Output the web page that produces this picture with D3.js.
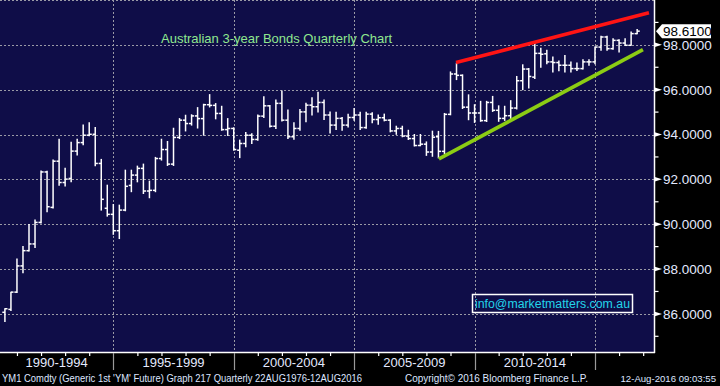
<!DOCTYPE html>
<html><head><meta charset="utf-8">
<script src="https://cdn.jsdelivr.net/npm/d3@7"></script>
<style>html,body{margin:0;padding:0;background:#000;} svg{display:block;}</style>
</head><body><svg id="c" width="720" height="386"></svg>
<script>
// ---------- data ----------
const title = "Australian 3-year Bonds Quarterly Chart";
const startYear = 1990, startQuarter = 2; // first bar: 1990 Q2
const open = [86.07,86.20,86.97,88.14,88.82,89.12,90.08,92.33,90.75,92.81,
  91.86,92.04,93.26,93.64,93.97,94.01,92.71,90.71,90.44,89.71,
  90.63,91.73,92.19,92.49,91.48,91.51,92.93,93.33,92.68,93.87,
  94.64,94.49,94.83,94.71,95.33,95.30,94.94,94.22,94.27,93.30,
  93.60,93.97,93.78,94.82,95.28,94.37,95.39,94.64,93.90,94.27,
  95.01,95.31,95.24,95.43,94.87,94.42,94.72,94.42,94.76,94.87,
  94.31,94.91,94.67,94.75,94.64,94.16,94.27,93.93,93.82,93.51,
  93.57,93.22,93.90,93.25,94.90,96.70,96.64,95.22,94.96,94.96,
  94.62,95.43,95.08,94.72,94.84,95.18,96.40,96.92,96.56,97.62,
  97.60,97.24,97.21,97.09,97.09,96.94,96.94,97.24,97.24,97.90,
  98.35,97.83,98.20,98.08,97.98,98.50];
const high = [86.23,86.97,88.45,89.00,89.99,90.19,92.37,92.36,92.86,93.79,
  92.50,93.66,93.79,94.43,94.53,94.31,92.89,91.74,90.88,90.85,
  92.41,92.41,92.59,92.68,91.92,92.98,93.79,93.69,94.28,94.71,
  94.86,94.88,95.20,95.35,95.78,95.38,95.26,94.71,94.30,93.75,
  94.09,94.04,94.87,95.69,95.30,95.54,95.94,95.09,94.52,95.12,
  95.39,95.64,95.88,95.54,95.01,94.99,94.76,94.90,95.16,94.99,
  94.99,94.97,94.87,94.91,94.66,94.37,94.37,94.19,94.00,94.00,
  93.67,94.15,94.14,94.94,96.79,97.18,96.66,95.77,95.33,95.48,
  95.48,95.70,95.28,95.26,95.51,96.59,97.11,96.95,98.05,97.85,
  97.76,97.46,97.28,97.53,97.24,97.19,97.34,97.34,97.90,98.38,
  98.38,98.27,98.23,98.27,98.57,98.68];
const low = [85.66,86.15,86.95,87.84,88.80,88.96,90.05,90.56,90.72,91.74,
  91.70,91.89,93.09,93.54,93.94,92.61,90.63,90.36,89.55,89.36,
  90.60,91.45,91.89,91.37,91.18,91.45,92.86,92.62,92.62,93.82,
  94.16,94.42,94.29,93.97,95.23,94.70,94.19,93.96,93.30,92.97,
  93.45,93.60,93.75,94.76,94.34,94.27,94.60,93.82,93.79,94.19,
  94.57,94.87,95.01,94.67,94.07,94.22,94.19,94.34,94.64,94.22,
  94.28,94.52,94.46,94.61,94.12,94.01,93.90,93.78,93.49,93.50,
  93.07,93.03,92.96,93.15,94.88,96.45,95.16,94.66,94.54,94.59,
  94.58,95.03,94.59,94.63,94.66,95.14,96.00,96.07,96.50,97.00,
  97.16,96.79,96.84,96.79,96.79,96.86,96.92,97.09,97.16,97.76,
  97.76,97.80,97.68,97.98,97.98,98.50];
const close = [86.23,86.97,88.14,88.82,89.12,90.08,92.33,90.78,92.81,91.86,
  92.01,93.26,93.64,93.97,94.01,92.71,91.11,90.44,89.71,90.63,
  91.69,92.19,92.49,91.48,91.51,92.93,93.33,92.68,93.87,94.64,
  94.49,94.83,94.71,95.33,95.30,94.94,94.22,94.27,93.33,93.60,
  93.97,93.78,94.82,95.28,94.37,95.39,94.64,93.90,94.27,95.01,
  95.31,95.24,95.43,94.87,94.42,94.72,94.42,94.76,94.87,94.31,
  94.91,94.67,94.75,94.64,94.16,94.27,93.93,93.82,93.51,93.57,
  93.22,93.88,93.25,94.90,96.70,96.64,95.22,94.96,94.96,94.62,
  95.43,95.08,94.72,94.84,95.18,96.40,96.92,96.59,97.62,97.58,
  97.24,97.21,97.09,97.09,96.94,96.94,97.24,97.24,97.90,98.35,
  97.83,98.20,98.08,97.98,98.50,98.61];
const yMajor = [86,88,90,92,94,96,98];
const yMinor = [85,87,89,91,93,95,97,99];
const yGrid = [86,88,90,92,94,96,98,100];
const periodLabels = ["1990-1994","1995-1999","2000-2004","2005-2009","2010-2014"];
const periodStarts = [1990,1995,2000,2005,2010];
const separators = [1995,2000,2005,2010,2015];
const yearTicks = [1991,1992,1993,1994,1996,1997,1998,1999,2001,2002,2003,2004,
  2006,2007,2008,2009,2011,2012,2013,2014,2016,2017];
const lastPrice = 98.61;
const resistance = [[2009.23,97.21],[2017.24,99.43]];
const support = [[2008.52,92.91],[2016.99,97.79]];
const footLeft = "YM1 Comdty (Generic 1st 'YM' Future) Graph 217  Quarterly 22AUG1976-12AUG2016";
const footMid = "Copyright\u00A9 2016 Bloomberg Finance L.P.";
const footRight = "12-Aug-2016 09:03:55";
const watermark = "info@marketmatters.com.au";

// ---------- layout ----------
const W = 720, H = 386, PW = 654, PH = 352;
const svg = d3.select("#c");
const x = d3.scaleLinear().domain([1995, 2015]).range([113.3, 595]);
const y = d3.scaleLinear().domain([84.3, 100]).range([PH, 0]);
const FONT = "'Liberation Sans', Arial, sans-serif";
const txtCol = "#e4eaff";

svg.append("rect").attr("width", W).attr("height", H).attr("fill", "#000");
svg.append("defs").append("clipPath").attr("id","pc")
  .append("rect").attr("width", PW).attr("height", PH);
svg.append("rect").attr("width", PW).attr("height", PH).attr("fill", "#0f0d48");

const plot = svg.append("g").attr("clip-path","url(#pc)");
// grid
plot.selectAll(".hg").data(yGrid).join("line")
  .attr("x1", 0).attr("x2", PW)
  .attr("y1", d => Math.round(y(d)) + 0.5).attr("y2", d => Math.round(y(d)) + 0.5)
  .attr("stroke", "#9a9aa6").attr("stroke-width", 1).attr("stroke-dasharray", "2,2");
plot.selectAll(".vg").data(separators).join("line")
  .attr("x1", d => Math.round(x(d)) + 0.5).attr("x2", d => Math.round(x(d)) + 0.5)
  .attr("y1", 0).attr("y2", PH)
  .attr("stroke", "#9a9aa6").attr("stroke-width", 1).attr("stroke-dasharray", "2,2");

// bars
const bars = open.map((o, i) => {
  const n = startQuarter - 1 + i;
  return { t: startYear + Math.floor(n / 4) + ((n % 4) + 1) / 4, o, h: high[i], l: low[i], c: close[i] };
});
const tk = 2.6;
const bg = plot.append("g").attr("stroke", "#fff").attr("stroke-width", 1.5);
bars.forEach(b => {
  const bx = x(b.t);
  bg.append("line").attr("x1", bx).attr("x2", bx).attr("y1", y(b.h) - 0.5).attr("y2", y(b.l) + 0.5);
  bg.append("line").attr("x1", bx - tk).attr("x2", bx).attr("y1", y(b.o)).attr("y2", y(b.o));
  bg.append("line").attr("x1", bx).attr("x2", bx + tk).attr("y1", y(b.c)).attr("y2", y(b.c));
});

// trend lines
const ln = d3.line().x(d => x(d[0])).y(d => y(d[1]));
plot.append("path").attr("d", ln(resistance)).attr("stroke", "#ff1414").attr("stroke-width", 3.6).attr("fill", "none");
plot.append("path").attr("d", ln(support)).attr("stroke", "#8ccc14").attr("stroke-width", 3.6).attr("fill", "none");

// title
svg.append("text").attr("x", 161).attr("y", 43).text(title)
  .attr("font-family", FONT).attr("font-size", 13).attr("fill", "#8fe88f");

// watermark box
svg.append("rect").attr("x", 472.5).attr("y", 294.5).attr("width", 160).attr("height", 18)
  .attr("fill", "none").attr("stroke", "#fff").attr("stroke-width", 1.5);
svg.append("text").attr("x", 475).attr("y", 308).text(watermark)
  .attr("font-family", FONT).attr("font-size", 12.5).attr("fill", "#22d4ea")
  .attr("textLength", 155).attr("lengthAdjust", "spacingAndGlyphs");

// right axis
svg.append("line").attr("x1", PW + 0.5).attr("x2", PW + 0.5).attr("y1", 0).attr("y2", PH + 1)
  .attr("stroke", "#fff").attr("stroke-width", 1.5);
const ya = svg.append("g").attr("transform", `translate(${PW},0)`)
  .call(d3.axisRight(y).tickValues(yMajor).tickFormat(d3.format(".4f")).tickSize(0).tickPadding(9));
ya.select(".domain").remove();
ya.selectAll("text").attr("font-family", FONT).attr("font-size", 13.5).attr("fill", txtCol);
svg.selectAll(".ymaj").data(yMajor).join("path")
  .attr("d", d => { const yy = y(d); return `M${PW},${yy - 2.5}L${PW + 8},${yy}L${PW},${yy + 2.5}Z`; })
  .attr("fill", "#fff");
svg.selectAll(".ymin").data(yMinor).join("line")
  .attr("x1", PW).attr("x2", PW + 4.5).attr("y1", d => y(d)).attr("y2", d => y(d))
  .attr("stroke", "#fff").attr("stroke-width", 1.2);

// last price tag
const ly = y(lastPrice);
svg.append("path").attr("d", `M${PW + 2},${ly}L${PW + 8},${ly - 7}L${PW + 57},${ly - 7}L${PW + 57},${ly + 7}L${PW + 8},${ly + 7}Z`)
  .attr("fill", "#fff");
svg.append("text").attr("x", PW + 9).attr("y", ly).attr("dy", "0.35em").text(d3.format(".4f")(lastPrice))
  .attr("font-family", FONT).attr("font-size", 13.5).attr("fill", "#000");

// bottom axis
svg.append("line").attr("x1", 0).attr("x2", PW + 1).attr("y1", PH + 0.5).attr("y2", PH + 0.5)
  .attr("stroke", "#fff").attr("stroke-width", 1.5);
const xa = svg.append("g").attr("transform", `translate(0,${PH})`)
  .call(d3.axisBottom(x).tickValues(yearTicks).tickSize(4).tickFormat(""));
xa.select(".domain").remove();
xa.selectAll("line").attr("stroke", "#fff").attr("stroke-width", 1.2);
svg.selectAll(".sep").data(separators).join("line")
  .attr("x1", d => Math.round(x(d)) + 0.5).attr("x2", d => Math.round(x(d)) + 0.5)
  .attr("y1", PH + 1).attr("y2", PH + 18).attr("stroke", "#9a9a9a").attr("stroke-width", 1.2);
svg.selectAll(".pl").data(periodLabels).join("text")
  .attr("x", (d, i) => (Math.max(0, x(periodStarts[i])) + Math.min(PW, x(periodStarts[i] + 5))) / 2)
  .attr("y", 367).attr("text-anchor", "middle").text(d => d)
  .attr("font-family", FONT).attr("font-size", 13).attr("fill", txtCol);

// footer
const ff = { "font-family": FONT, "font-size": 10.5, "fill": "#dfe6ff" };
function foot(t, xx, len) {
  const e = svg.append("text").attr("x", xx).attr("y", 382).text(t)
    .attr("textLength", len).attr("lengthAdjust", "spacingAndGlyphs");
  Object.entries(ff).forEach(([k, v]) => e.attr(k, v));
}
foot(footLeft, 2, 360);
foot(footMid, 405, 183);
svg.append("text").attr("x", 716).attr("y", 382).attr("text-anchor", "end").text(footRight)
  .attr("font-family", FONT).attr("font-size", 9.6).attr("fill", "#dfe6ff");
</script></body></html>
